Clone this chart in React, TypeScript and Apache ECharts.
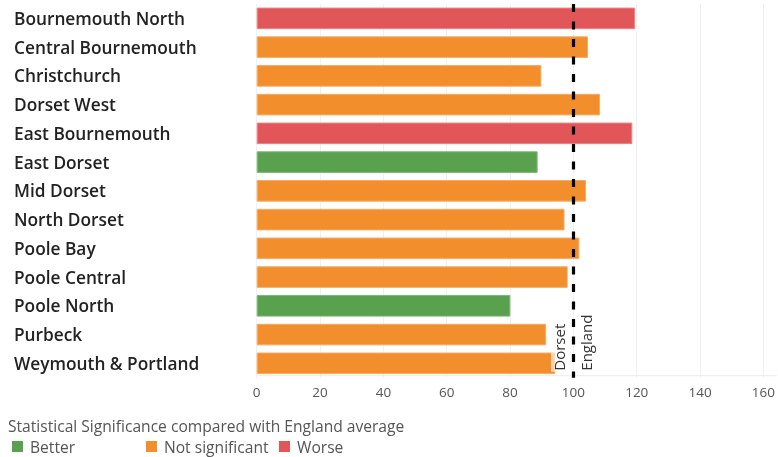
import React, { useEffect, useRef } from "react";
import * as echarts from "echarts";

const categories = [
  "Bournemouth North",
  "Central Bournemouth",
  "Christchurch",
  "Dorset West",
  "East Bournemouth",
  "East Dorset",
  "Mid Dorset",
  "North Dorset",
  "Poole Bay",
  "Poole Central",
  "Poole North",
  "Purbeck",
  "Weymouth & Portland",
];
const values = [119.5, 104.6, 89.9, 108.4, 118.6, 88.7, 104.0, 97.2, 101.9, 98.2, 80.1, 91.4, 94.3];
const significance = [
  "Worse",
  "Not significant",
  "Not significant",
  "Not significant",
  "Worse",
  "Better",
  "Not significant",
  "Not significant",
  "Not significant",
  "Not significant",
  "Better",
  "Not significant",
  "Not significant",
];
const legendItems = ["Better", "Not significant", "Worse"];
const legendTitle = "Statistical Significance compared with England average";
const englandValue = 100;
const dorsetValue = 91.5;
const xMin = 0;
const xMax = 160;
const xInterval = 20;

const colors: Record<string, string> = {
  Better: "#59A14F",
  "Not significant": "#F28E2B",
  Worse: "#E15759",
};
const borders: Record<string, string> = {
  Better: "#7db776",
  "Not significant": "#f6ab66",
  Worse: "#ea8385",
};

const FONT = "'Open Sans', 'Noto Sans', sans-serif";

export default function App() {
  const ref = useRef<HTMLDivElement>(null);
  useEffect(() => {
    if (!ref.current) return;
    const chart = echarts.init(ref.current, null, { renderer: "svg" });
    const option: any = {
      animation: false,
      grid: { left: 256.7, right: 1.3, top: 4, bottom: 79.3, containLabel: false },
      xAxis: {
        type: "value",
        min: xMin,
        max: xMax,
        interval: xInterval,
        axisLine: { show: false },
        axisTick: { show: false },
        splitLine: { show: true, lineStyle: { color: "#f0f0f0", width: 1 } },
        axisLabel: { color: "#555", fontSize: 13.5, fontFamily: FONT, margin: 7 },
      },
      yAxis: {
        type: "category",
        data: categories,
        inverse: true,
        axisLine: { show: false },
        axisTick: { show: false },
        splitLine: { show: false },
        axisLabel: {
          align: "left",
          margin: 242.7,
          color: "#222",
          fontSize: 17.3,
          fontWeight: 600,
          fontFamily: FONT,
        },
      },
      series: [
        {
          type: "bar",
          barCategoryGap: "25%",
          data: values.map((v, i) => ({
            value: v,
            itemStyle: { color: colors[significance[i]], borderColor: borders[significance[i]], borderWidth: 1 },
          })),
          markLine: {
            silent: true,
            symbol: "none",
            label: { show: false },
            data: [
              { xAxis: englandValue, lineStyle: { color: "#000", width: 3.2, type: [8, 9.5] } },
            ],
          },
        },
      ],
    };
    chart.setOption(option);

    const eX = chart.convertToPixel({ xAxisIndex: 0 }, englandValue) as number;
    const dX = chart.convertToPixel({ xAxisIndex: 0 }, dorsetValue) as number;
    const bottomY = 457 - 79.3;

    const graphics: any[] = [
      {
        type: "line",
        shape: { x1: 257, y1: bottomY - 2, x2: 777, y2: bottomY - 2 },
        style: { stroke: "#ececec", lineWidth: 1 },
        z: 0,
      },
      {
        type: "text",
        x: dX + 13,
        y: bottomY - 6,
        rotation: Math.PI / 2,
        style: {
          text: "Dorset",
          fill: "#333",
          font: `15px ${FONT}`,
          align: "left",
          verticalAlign: "middle",
          backgroundColor: "rgba(255,255,255,0.6)",
          padding: [1, 1],
        },
        z: 10,
      },
      {
        type: "text",
        x: eX + 13,
        y: bottomY - 6,
        rotation: Math.PI / 2,
        style: {
          text: "England",
          fill: "#333",
          font: `15px ${FONT}`,
          align: "left",
          verticalAlign: "middle",
          backgroundColor: "rgba(255,255,255,0.6)",
          padding: [1, 1],
        },
        z: 10,
      },
      {
        type: "text",
        left: 8,
        top: 418,
        style: { text: legendTitle, fill: "#555", font: `15.6px ${FONT}` },
      },
    ];
    const legendX = [12, 146, 279];
    legendItems.forEach((name, i) => {
      graphics.push({
        type: "rect",
        shape: { x: legendX[i], y: 441, width: 11, height: 11 },
        style: { fill: colors[name] },
      });
      graphics.push({
        type: "text",
        x: legendX[i] + 18,
        y: 447,
        style: { text: name, fill: "#555", font: `15.6px ${FONT}`, verticalAlign: "middle" },
      });
    });
    chart.setOption({ graphic: graphics });
    return () => chart.dispose();
  }, []);
  return <div ref={ref} style={{ position: "fixed", left: 0, top: 0, width: 778, height: 457 }} />;
}
